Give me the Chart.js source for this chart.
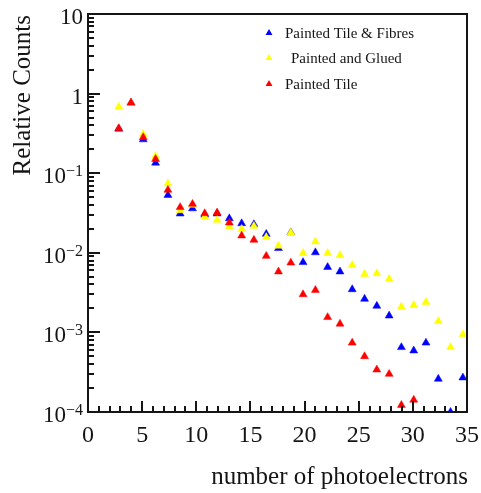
<!DOCTYPE html>
<html>
<head>
<meta charset="utf-8">
<script src="https://cdn.jsdelivr.net/npm/chart.js@4"></script>
<style>
  html, body { margin: 0; padding: 0; background: #fff; }
  canvas { display: block; }
</style>
</head>
<body>
<canvas id="peChart" width="481" height="493"></canvas>
<script>
// bin centres (photoelectrons)
const xValues = [2.84, 3.97, 5.1, 6.24, 7.38, 8.51, 9.65, 10.78, 11.92, 13.05,
    14.19, 15.32, 16.46, 17.59, 18.73, 19.86, 21.0, 22.13, 23.27, 24.4,
    25.54, 26.67, 27.81, 28.94, 30.08, 31.21, 32.35, 33.48, 34.62];

const tileFibres = [0.36, 0.76, 0.265, 0.135, 0.053, 0.031, 0.036, 0.030, 0.031, 0.027,
    0.0234, 0.0228, 0.0172, 0.0114, 0.0180, 0.0076, 0.0101, 0.0066, 0.0058, 0.00347,
    0.00263, 0.00215, 0.00162, 0.00065, 0.00059, 0.00074, 0.00026, 0.0001, 0.00027];

const paintedGlued = [0.68, 0.76, 0.31, 0.164, 0.074, 0.034, 0.040, 0.0284, 0.0258, 0.0213,
    0.0199, 0.0217, 0.0157, 0.0122, 0.0179, 0.0099, 0.0138, 0.0099, 0.0093, 0.0070,
    0.0054, 0.0055, 0.0047, 0.0021, 0.0022, 0.0024, 0.00138, 0.00065, 0.00094];

const paintedTile = [0.366, 0.77, 0.282, 0.150, 0.0615, 0.0373, 0.041, 0.0313, 0.0319, 0.0239,
    0.0164, 0.0145, 0.0091, 0.0058, 0.0075, 0.0030, 0.0034, 0.00155, 0.00128, 0.00074,
    0.00050, 0.00034, 0.00030, 0.000122, 0.000142, null, null, null, null];

const xTickValues = [0, 5, 10, 15, 20, 25, 30, 35];
const xTickLabels = ['0', '5', '10', '15', '20', '25', '30', '35'];

const yTickValues = [10, 1, 0.1, 0.01, 0.001, 0.0001];
const yTickBases = ['10', '1', '10', '10', '10', '10'];
const yTickExps = ['', '', '\u22121', '\u22122', '\u22123', '\u22124'];

const seriesNames = ['Painted Tile & Fibres', 'Painted and Glued', 'Painted Tile'];
const seriesColors = ['#0000ff', '#ffff00', '#ff0000'];

const SERIF = '"Liberation Serif", "Times New Roman", serif';
const INK = '#151515';

function toPoints(ys) {
    return xValues.map((x, i) => ({ x: x, y: ys[i] })).filter(p => p.y !== null);
}

function triangle(ctx, x, y, r) {
    ctx.beginPath();
    ctx.moveTo(x, y - r);
    ctx.lineTo(x + r * Math.sqrt(3) / 2, y + r / 2);
    ctx.lineTo(x - r * Math.sqrt(3) / 2, y + r / 2);
    ctx.closePath();
    ctx.fill();
}

// frame, inward ticks, labels, titles and legend in ROOT style
const rootFrame = {
    id: 'rootFrame',
    afterDraw(chart) {
        const ctx = chart.ctx;
        const area = chart.chartArea;
        const xs = chart.scales.x;
        const ys = chart.scales.y;

        ctx.save();
        ctx.strokeStyle = INK;
        ctx.lineWidth = 2;
        ctx.strokeRect(area.left, area.top, area.right - area.left, area.bottom - area.top);

        ctx.beginPath();
        for (let d = -4; d <= 0; d++) {
            for (let m = 1; m <= 9; m++) {
                const py = Math.round(ys.getPixelForValue(m * Math.pow(10, d)));
                const len = m === 1 ? 12 : 6;
                ctx.moveTo(area.left, py);
                ctx.lineTo(area.left + len, py);
            }
        }
        for (let i = 0; i <= 35; i++) {
            const px = Math.round(xs.getPixelForValue(i));
            const len = i % 5 === 0 ? 11 : 6;
            ctx.moveTo(px, area.bottom);
            ctx.lineTo(px, area.bottom - len);
        }
        ctx.stroke();

        ctx.fillStyle = INK;

        // x tick labels
        ctx.font = '24px ' + SERIF;
        ctx.textAlign = 'center';
        ctx.textBaseline = 'alphabetic';
        xTickValues.forEach((v, i) => {
            ctx.fillText(xTickLabels[i], xs.getPixelForValue(v), 441.5);
        });

        // y tick labels with exponents
        ctx.textAlign = 'right';
        yTickValues.forEach((v, i) => {
            const py = ys.getPixelForValue(v);
            let right = 83;
            if (yTickExps[i]) {
                ctx.font = '16px ' + SERIF;
                ctx.fillText(yTickExps[i], right, py + 3);
                right -= ctx.measureText(yTickExps[i]).width;
            }
            ctx.font = '23px ' + SERIF;
            ctx.fillText(yTickBases[i], right, py + 10);
        });

        // axis titles
        ctx.font = '25px ' + SERIF;
        ctx.textAlign = 'right';
        ctx.fillText('number of photoelectrons', area.right + 1, 484);

        ctx.save();
        ctx.translate(23, area.top + 1);
        ctx.rotate(-Math.PI / 2);
        ctx.textBaseline = 'middle';
        ctx.fillText('Relative Counts', 0, 0);
        ctx.restore();

        // legend
        const legendY = [32, 57, 83];
        const legendTextX = [285, 291, 285];
        ctx.font = '15px ' + SERIF;
        ctx.textAlign = 'left';
        ctx.textBaseline = 'alphabetic';
        seriesNames.forEach((name, i) => {
            ctx.fillStyle = seriesColors[i];
            triangle(ctx, 269, legendY[i] + 1, 4);
            ctx.fillStyle = INK;
            ctx.fillText(name, legendTextX[i], legendY[i] + 5.5);
        });
        ctx.restore();
    }
};

const seriesData = [tileFibres, paintedGlued, paintedTile];

new Chart(document.getElementById('peChart'), {
    type: 'scatter',
    data: {
        datasets: seriesData.map((ys, i) => ({
            label: seriesNames[i],
            data: toPoints(ys),
            pointStyle: 'triangle',
            pointRadius: 4.6,
            pointHoverRadius: 4.6,
            backgroundColor: seriesColors[i],
            borderColor: seriesColors[i],
            borderWidth: 0.5,
            order: 3 - i,
            clip: 0
        }))
    },
    options: {
        responsive: false,
        animation: false,
        devicePixelRatio: 1,
        layout: { padding: { left: 88, right: 14, top: 14, bottom: 81 } },
        plugins: {
            legend: { display: false },
            tooltip: { enabled: false }
        },
        scales: {
            x: { type: 'linear', min: 0, max: 35, display: false },
            y: { type: 'logarithmic', min: 0.0001, max: 10, display: false }
        }
    },
    plugins: [rootFrame]
});
</script>
</body>
</html>
